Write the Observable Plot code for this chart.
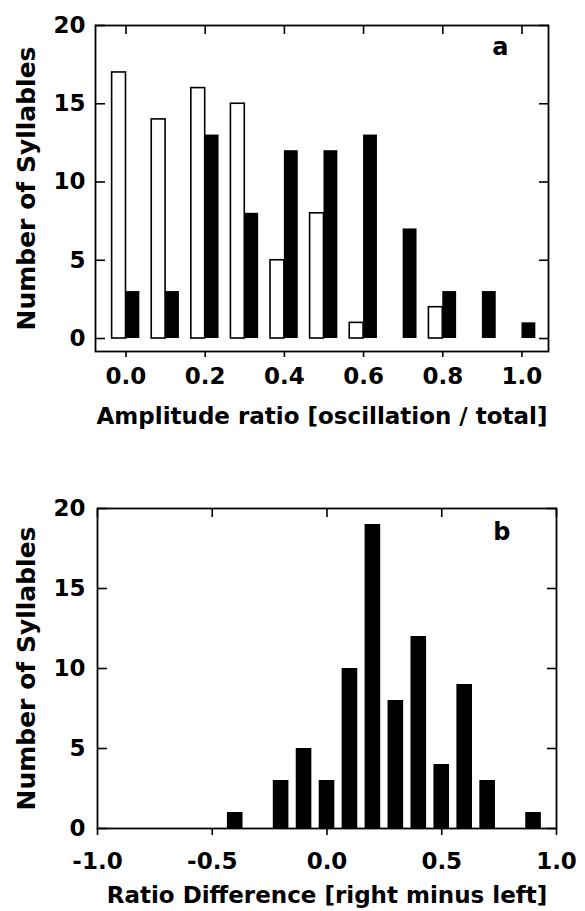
<!DOCTYPE html>
<html><head><meta charset="utf-8">
<script src="https://cdn.jsdelivr.net/npm/d3@7"></script>
<script src="https://cdn.jsdelivr.net/npm/@observablehq/plot@0.6"></script>
<style>
body{margin:0;background:#fff}
#chart{width:585px;height:911px;overflow:hidden}
#chart svg{display:block}
</style>
</head><body><div id="chart"></div>
<script>
// Panel a: amplitude ratio histogram (open = one side, filled = other side)
const binsA = [0.0, 0.1, 0.2, 0.3, 0.4, 0.5, 0.6, 0.7, 0.8, 0.9, 1.0];
const openA = [17, 14, 16, 15, 5, 8, 1, 0, 2, 0, 0];
const filledA = [3, 3, 13, 8, 12, 12, 13, 7, 3, 3, 1];
const xTicksA = [0.0, 0.2, 0.4, 0.6, 0.8, 1.0];

// Panel b: ratio difference histogram
const binsB = [-0.4, -0.2, -0.1, 0.0, 0.1, 0.2, 0.3, 0.4, 0.5, 0.6, 0.7, 0.9];
const countsB = [1, 3, 5, 3, 10, 19, 8, 12, 4, 9, 3, 1];
const xTicksB = [-1.0, -0.5, 0.0, 0.5, 1.0];

const yTicks = [0, 5, 10, 15, 20];
const fmt = d => d3.format(".1f")(d).replace("\u2212", "-");

const style = {fontFamily: "'DejaVu Sans', sans-serif", fontWeight: "bold", fontSize: "23px", background: "white", color: "black", overflow: "visible"};

const tableA = binsA.map((x, i) => ({x, open: openA[i], filled: filledA[i]}));
const tableB = binsB.map((x, i) => ({x, n: countsB[i]}));
const hwA = 0.035, hwB = 0.034;

const plotA = Plot.plot({
  width: 585, height: 435,
  marginTop: 25, marginBottom: 84, marginLeft: 95, marginRight: 37,
  style,
  x: {domain: [-0.077, 1.067]},
  y: {domain: [-0.83, 20]},
  marks: [
    Plot.rect(tableA.filter(d => d.open > 0), {x1: d => d.x - hwA, x2: d => d.x, y1: 0, y2: "open", fill: "white", stroke: "black", strokeWidth: 1.6}),
    Plot.rect(tableA.filter(d => d.filled > 0), {x1: d => d.x, x2: d => d.x + hwA, y1: 0, y2: "filled", fill: "black"}),
    Plot.frame({stroke: "black", strokeWidth: 1.8}),
    Plot.axisY({anchor: "left", ticks: yTicks, tickSize: -10, fill: "none", strokeWidth: 1.6, label: null}),
    Plot.axisY({anchor: "right", ticks: yTicks, tickSize: -10, fill: "none", strokeWidth: 1.6, label: null}),
    Plot.axisX({anchor: "top", ticks: xTicksA, tickSize: -8, fill: "none", strokeWidth: 1.6, label: null}),
    Plot.axisX({anchor: "bottom", ticks: xTicksA, tickSize: 6, fill: "none", strokeWidth: 1.6, label: null}),
    Plot.axisY({anchor: "left", ticks: yTicks, tickSize: 0, tickPadding: 10, label: null}),
    Plot.axisY({anchor: "left", ticks: [], tickSize: 0, label: "Number of Syllables", labelAnchor: "center", labelArrow: "none", labelOffset: 78, fontSize: 25}),
    Plot.axisX({anchor: "bottom", ticks: xTicksA, tickSize: 0, tickPadding: 16, tickFormat: fmt, label: "Amplitude ratio [oscillation / total]", labelAnchor: "center", labelArrow: "none", labelOffset: 72}),
    Plot.text(["a"], {frameAnchor: "top-right", text: d => d, dx: -40, dy: 22, lineAnchor: "middle", fontSize: 24, fontWeight: "bold"})
  ]
});

const plotB = Plot.plot({
  width: 585, height: 476,
  marginTop: 73, marginBottom: 83, marginLeft: 97, marginRight: 29,
  style,
  x: {domain: [-1, 1]},
  y: {domain: [0, 20]},
  marks: [
    Plot.rect(tableB, {x1: d => d.x - hwB, x2: d => d.x + hwB, y1: 0, y2: "n", fill: "black"}),
    Plot.frame({stroke: "black", strokeWidth: 1.8}),
    Plot.axisY({anchor: "left", ticks: yTicks, tickSize: -10, fill: "none", strokeWidth: 1.6, label: null}),
    Plot.axisY({anchor: "right", ticks: yTicks, tickSize: -10, fill: "none", strokeWidth: 1.6, label: null}),
    Plot.axisX({anchor: "top", ticks: xTicksB, tickSize: -8, fill: "none", strokeWidth: 1.6, label: null}),
    Plot.axisX({anchor: "bottom", ticks: xTicksB, tickSize: 7, fill: "none", strokeWidth: 1.6, label: null}),
    Plot.axisY({anchor: "left", ticks: yTicks, tickSize: 0, tickPadding: 12, label: null}),
    Plot.axisY({anchor: "left", ticks: [], tickSize: 0, label: "Number of Syllables", labelAnchor: "center", labelArrow: "none", labelOffset: 80, fontSize: 25}),
    Plot.axisX({anchor: "bottom", ticks: xTicksB, tickSize: 0, tickPadding: 24, tickFormat: fmt, label: "Ratio Difference [right minus left]", labelAnchor: "center", labelArrow: "none", labelOffset: 74}),
    Plot.text(["b"], {frameAnchor: "top-right", text: d => d, dx: -46, dy: 24, lineAnchor: "middle", fontSize: 24, fontWeight: "bold"})
  ]
});

const chart = document.getElementById("chart");
chart.append(plotA, plotB);
</script>
</body></html>
